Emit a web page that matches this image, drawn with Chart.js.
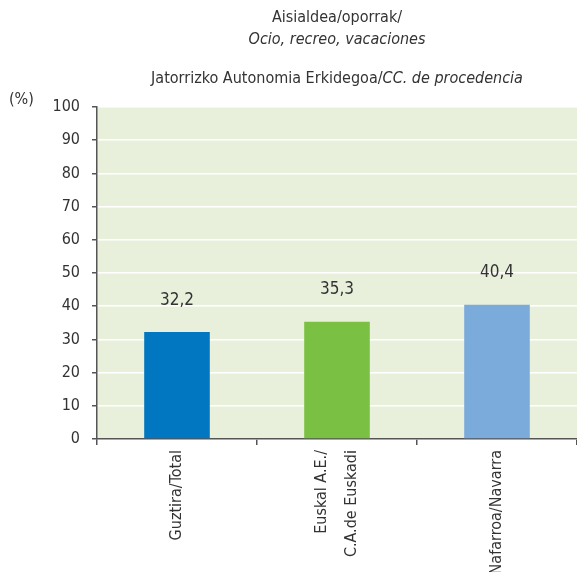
<html>
<head>
<meta charset="utf-8">
<title>Aisialdea/oporrak</title>
<script src="https://cdn.jsdelivr.net/npm/chart.js@4/dist/chart.umd.min.js"></script>
<style>
  body { margin: 0; background: #fff; }
  #wrap { width: 577px; height: 572px; }
</style>
</head>
<body>
<div id="wrap"><canvas id="chart" width="577" height="572"></canvas></div>
<script>
// data
var categories = ['Guztira/Total', ['Euskal A.E./', 'C.A.de Euskadi'], 'Nafarroa/Navarra'];
var values = [32.2, 35.3, 40.4];
var barColors = ['#0077c0', '#7ac143', '#7aabdb'];
var yTicks = [0, 10, 20, 30, 40, 50, 60, 70, 80, 90, 100];

var FONT = "'Liberation Sans Narrow', 'DejaVu Sans Condensed', sans-serif";
var TXT = '#333333';

// plot background, titles, value labels, rotated category labels
var decor = {
  id: 'decor',
  beforeDraw: function(chart) {
    var a = chart.chartArea, c = chart.ctx;
    c.save();
    c.fillStyle = '#e8f0dc';
    c.fillRect(a.left, a.top, a.right - a.left, a.bottom - a.top);
    c.restore();
  },
  afterDatasetsDraw: function(chart) {
    var c = chart.ctx;
    var meta = chart.getDatasetMeta(0);
    c.save();
    c.fillStyle = TXT;
    c.font = '17px ' + FONT;
    c.textAlign = 'center';
    c.textBaseline = 'middle';
    meta.data.forEach(function(bar, i) {
      c.fillText(values[i].toFixed(1).replace('.', ','), bar.x, bar.y - 32);
    });
    c.restore();
  },
  afterDraw: function(chart) {
    var c = chart.ctx, a = chart.chartArea;
    var cx = (a.left + a.right) / 2;
    c.save();
    c.fillStyle = TXT;
    c.textBaseline = 'middle';
    c.textAlign = 'center';
    c.font = '16px ' + FONT;
    c.fillText('Aisialdea/oporrak/', cx, 18);
    c.font = 'italic 16px ' + FONT;
    c.fillText('Ocio, recreo, vacaciones', cx, 40);
    // mixed line
    var p1 = 'Jatorrizko Autonomia Erkidegoa/', p2 = 'CC. de procedencia';
    c.font = '16px ' + FONT;
    var w1 = c.measureText(p1).width;
    c.font = 'italic 16px ' + FONT;
    var w2 = c.measureText(p2).width;
    var x0 = cx - (w1 + w2) / 2;
    c.textAlign = 'left';
    c.font = '16px ' + FONT;
    c.fillText(p1, x0, 79);
    c.font = 'italic 16px ' + FONT;
    c.fillText(p2, x0 + w1, 79);
    c.font = '16px ' + FONT;
    c.fillText('(%)', 9, 100);

    // category labels, rotated, centred under each bar
    var xs = chart.scales.x;
    c.font = '16px ' + FONT;
    c.textAlign = 'right';
    categories.forEach(function(lab, i) {
      var lines = Array.isArray(lab) ? lab : [lab];
      var px = xs.getPixelForValue(i);
      lines.forEach(function(line, j) {
        var lx = px + (j - (lines.length - 1) / 2) * 30;
        c.save();
        c.translate(lx, a.bottom + 11);
        c.rotate(-Math.PI / 2);
        c.fillText(line, 0, 0);
        c.restore();
      });
    });
    c.restore();
  }
};

new Chart(document.getElementById('chart'), {
  type: 'bar',
  data: {
    labels: categories,
    datasets: [{
      data: values,
      backgroundColor: barColors,
      borderWidth: 0,
      categoryPercentage: 1,
      barPercentage: 0.41
    }]
  },
  options: {
    responsive: false,
    animation: false,
    layout: { padding: { top: 107, right: 0, left: 0, bottom: 0 } },
    plugins: {
      legend: { display: false },
      tooltip: { enabled: false }
    },
    scales: {
      x: {
        offset: true,
        afterFit: function(s) { s.height = 133; },
        border: { color: '#555555', width: 1.5 },
        grid: { offset: true, drawOnChartArea: false, drawTicks: true, tickLength: 6, tickColor: '#555555', lineWidth: 1.5 },
        ticks: { display: false, autoSkip: false }
      },
      y: {
        min: 0,
        max: 100,
        afterFit: function(s) { s.width = 97; },
        afterBuildTicks: function(s) { s.ticks = yTicks.map(function(v) { return { value: v }; }); },
        border: { color: '#555555', width: 1.5 },
        grid: { color: '#ffffff', lineWidth: 1.5, tickColor: '#555555', tickLength: 5, drawTicks: true },
        ticks: {
          color: TXT,
          font: { family: FONT, size: 16 },
          padding: 12
        }
      }
    }
  },
  plugins: [decor]
});
</script>
</body>
</html>
